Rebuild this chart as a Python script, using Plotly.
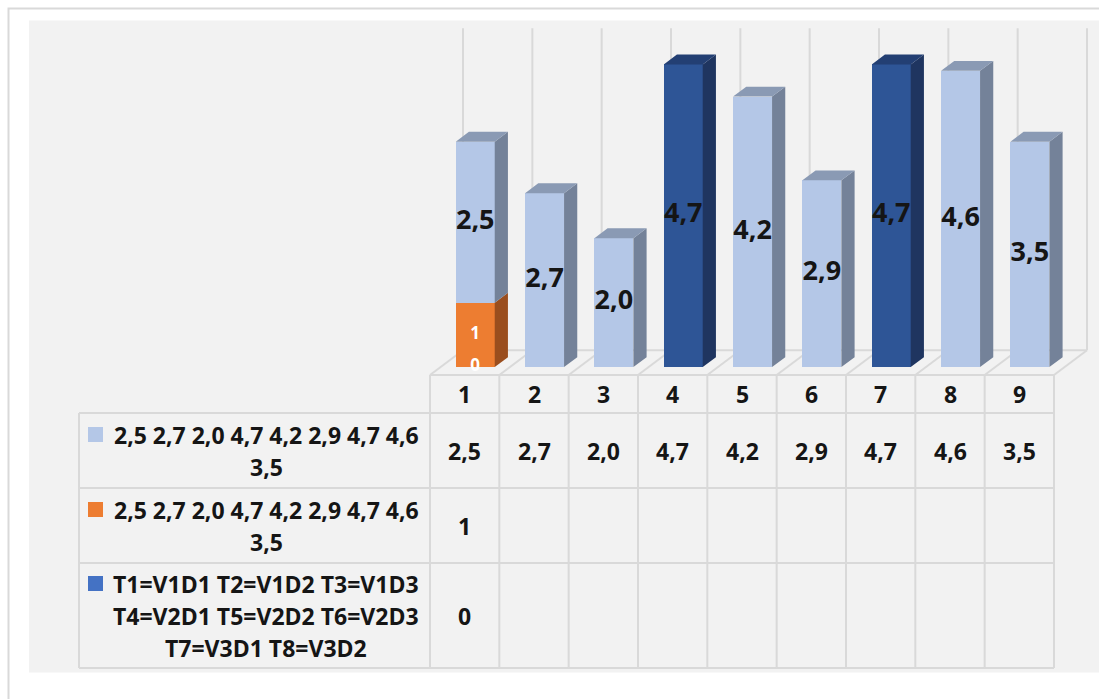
import textwrap
import plotly.graph_objects as go

# ---------------- data ----------------
categories = [1, 2, 3, 4, 5, 6, 7, 8, 9]
series_names = [
    "2,5 2,7 2,0 4,7 4,2 2,9 4,7 4,6 3,5",
    "2,5 2,7 2,0 4,7 4,2 2,9 4,7 4,6 3,5",
    "T1=V1D1 T2=V1D2 T3=V1D3 T4=V2D1 T5=V2D2 T6=V2D3 T7=V3D1 T8=V3D2",
]
s1_values = [2.5, 2.7, 2.0, 4.7, 4.2, 2.9, 4.7, 4.6, 3.5]
s2_values = [1, None, None, None, None, None, None, None, None]
s3_values = [0, None, None, None, None, None, None, None, None]
highlight_cats = [4, 7]

# ---------------- style / layout ----------------
W, H = 1099, 699
FONT = "Open Sans"
GRID = "#D9D9D9"
C_LIGHT = dict(front="#B4C7E7", top="#8A9AB4", side="#748299")
C_DARK = dict(front="#2E5596", top="#233F73", side="#1F3560")
C_ORANGE = dict(front="#ED7D31", top="#B5602A", side="#9A4E1E")
LEGEND_SQ = ["#B4C7E7", "#ED7D31", "#4472C4"]
WRAP = [31, 31, 23]

PX_PER_X = 624 / 9.0
X0_PX = 430.0
PX_PER_Y = 64.4
Y0_PX = 375.0
xr0 = 0.5 - X0_PX / PX_PER_X
x_range = [xr0, xr0 + W / PX_PER_X]
y_range = [(Y0_PX - H) / PX_PER_Y, Y0_PX / PX_PER_Y]

DX, DY = 0.476, 0.385          # full depth offset in axis units
F0, F1 = 0.32, 0.72            # bar depth fractions
BAR_W = 0.5625
SHIFT = F0 * DX
BASE = F0 * DY
DDX, DDY = (F1 - F0) * DX, (F1 - F0) * DY
VMAX = 5


def px(x):
    return x / W


def py(y):
    return 1 - y / H


def fmt(v):
    if isinstance(v, int):
        return str(v)
    return f"{v:.1f}".replace(".", ",")


fig = go.Figure()
shapes = []

# background
shapes.append(dict(type="rect", xref="paper", yref="paper", x0=px(8.5), x1=px(1130),
                   y0=py(8.5), y1=py(740), line=dict(color=GRID, width=2),
                   fillcolor="white", layer="below"))
shapes.append(dict(type="rect", xref="paper", yref="paper", x0=px(29), x1=px(1120),
                   y0=py(20.5), y1=py(672.5), line=dict(width=0),
                   fillcolor="#F2F2F2", layer="below"))

# back wall gridlines and floor
for k in range(len(categories) + 1):
    xb = k + 0.5
    shapes.append(dict(type="line", xref="x", yref="y", x0=xb + DX, x1=xb + DX,
                       y0=DY, y1=VMAX + DY, line=dict(color=GRID, width=2), layer="below"))
    shapes.append(dict(type="line", xref="x", yref="y", x0=xb, x1=xb + DX,
                       y0=0, y1=DY, line=dict(color=GRID, width=2), layer="below"))
shapes.append(dict(type="line", xref="x", yref="y", x0=0.5 + DX, x1=len(categories) + 0.5 + DX,
                   y0=DY, y1=DY, line=dict(color=GRID, width=2), layer="below"))

# ---------------- bars ----------------
stack = [(s3_values, None), (s2_values, C_ORANGE), (s1_values, None)]
cum = [BASE] * len(categories)
segments = []  # (cat_index, y0, y1, colors, value, series_idx)
for si, (vals, col) in enumerate(stack):
    for i, v in enumerate(vals):
        if v is None:
            continue
        if col is None:
            c = C_DARK if categories[i] in highlight_cats else C_LIGHT
        else:
            c = col
        segments.append((i, cum[i], cum[i] + v, c, v, si))
        cum[i] += v

top_y = cum[:]

# front faces as bars
for (i, y0, y1, c, v, si) in segments:
    if y1 - y0 <= 0:
        continue
    fig.add_trace(go.Bar(x=[categories[i] + SHIFT], y=[y1 - y0], base=[y0], width=BAR_W,
                         marker=dict(color=c["front"], line=dict(width=0)),
                         hoverinfo="skip", showlegend=False))

# side and top faces
poly = {}
for (i, y0, y1, c, v, si) in segments:
    if y1 - y0 <= 0:
        continue
    xc = categories[i] + SHIFT
    x0, x1 = xc - BAR_W / 2, xc + BAR_W / 2
    poly.setdefault(c["side"], ([], []))
    xs, ys = poly[c["side"]]
    xs += [x1, x1 + DDX, x1 + DDX, x1, x1, None]
    ys += [y0, y0 + DDY, y1 + DDY, y1, y0, None]
    if abs(y1 - top_y[i]) < 1e-9:
        poly.setdefault(c["top"], ([], []))
        xs, ys = poly[c["top"]]
        xs += [x0, x1, x1 + DDX, x0 + DDX, x0, None]
        ys += [y1, y1, y1 + DDY, y1 + DDY, y1, None]
for color, (xs, ys) in poly.items():
    fig.add_trace(go.Scatter(x=xs, y=ys, mode="lines", fill="toself", fillcolor=color,
                             line=dict(width=0, color=color), hoverinfo="skip",
                             showlegend=False))

# data labels
lab_x, lab_y, lab_t = [], [], []
w_x, w_y, w_t = [], [], []
for (i, y0, y1, c, v, si) in segments:
    xc = categories[i] + SHIFT
    if si == 2:
        lab_x.append(xc); lab_y.append((y0 + y1) / 2); lab_t.append("<b>" + fmt(v) + "</b>")
    else:
        w_x.append(xc); w_y.append((y0 + y1) / 2 if y1 > y0 else y0); w_t.append("<b>" + fmt(v) + "</b>")
fig.add_trace(go.Scatter(x=lab_x, y=lab_y, text=lab_t, mode="text",
                         textfont=dict(family=FONT, size=27, color="#151515"),
                         hoverinfo="skip", showlegend=False))
fig.add_trace(go.Scatter(x=w_x, y=w_y, text=w_t, mode="text",
                         textfont=dict(family=FONT, size=17, color="white"),
                         hoverinfo="skip", showlegend=False))

# ---------------- data table ----------------
ROWS = [(413, 488), (488, 563), (563, 668)]
HEAD = (375, 413)
LEG_X0 = 79
ncat = len(categories)
tl = dict(color=GRID, width=2)
shapes.append(dict(type="line", xref="x", yref="paper", x0=0.5, x1=ncat + 0.5,
                   y0=py(HEAD[0]), y1=py(HEAD[0]), line=tl))
for yy in [HEAD[1]] + [r[1] for r in ROWS]:
    shapes.append(dict(type="line", xref="paper", yref="paper", x0=px(LEG_X0), x1=px(X0_PX + ncat * PX_PER_X),
                       y0=py(yy), y1=py(yy), line=tl))
shapes.append(dict(type="line", xref="paper", yref="paper", x0=px(LEG_X0), x1=px(LEG_X0),
                   y0=py(HEAD[1]), y1=py(ROWS[-1][1]), line=tl))
for k in range(ncat + 1):
    shapes.append(dict(type="line", xref="x", yref="paper", x0=k + 0.5, x1=k + 0.5,
                       y0=py(HEAD[0]), y1=py(ROWS[-1][1]), line=tl))

annotations = []
tf = dict(family=FONT, size=23, color="#151515")
for c in categories:
    annotations.append(dict(x=c, y=py((HEAD[0] + HEAD[1]) / 2), xref="x", yref="paper",
                            text=f"<b>{c}</b>", showarrow=False, font=tf,
                            xanchor="center", yanchor="middle"))
for r, vals in enumerate([s1_values, s2_values, s3_values]):
    yc = (ROWS[r][0] + ROWS[r][1]) / 2
    for c, v in zip(categories, vals):
        if v is None:
            continue
        annotations.append(dict(x=c, y=py(yc), xref="x", yref="paper",
                                text="<b>" + fmt(v) + "</b>", showarrow=False, font=tf,
                                xanchor="center", yanchor="middle"))
    lines = textwrap.wrap(series_names[r], WRAP[r])
    n = len(lines)
    LH = 32
    for j, ln in enumerate(lines):
        yl = yc + (j - (n - 1) / 2) * LH
        annotations.append(dict(x=px(266), y=py(yl), xref="paper", yref="paper",
                                text=f"<b>{ln}</b>", showarrow=False, font=tf,
                                xanchor="center", yanchor="middle"))
    y_first = yc - (n - 1) / 2 * LH
    shapes.append(dict(type="rect", xref="paper", yref="paper", x0=px(88), x1=px(103),
                       y0=py(y_first - 7.5), y1=py(y_first + 7.5),
                       fillcolor=LEGEND_SQ[r], line=dict(width=0)))

fig.update_layout(
    width=W, height=H,
    margin=dict(l=0, r=0, t=0, b=0),
    paper_bgcolor="white", plot_bgcolor="rgba(0,0,0,0)",
    barmode="overlay", bargap=0,
    xaxis=dict(range=x_range, visible=False, fixedrange=True),
    yaxis=dict(range=y_range, visible=False, fixedrange=True),
    shapes=shapes, annotations=annotations,
    showlegend=False,
)
fig.write_html("out.html")
